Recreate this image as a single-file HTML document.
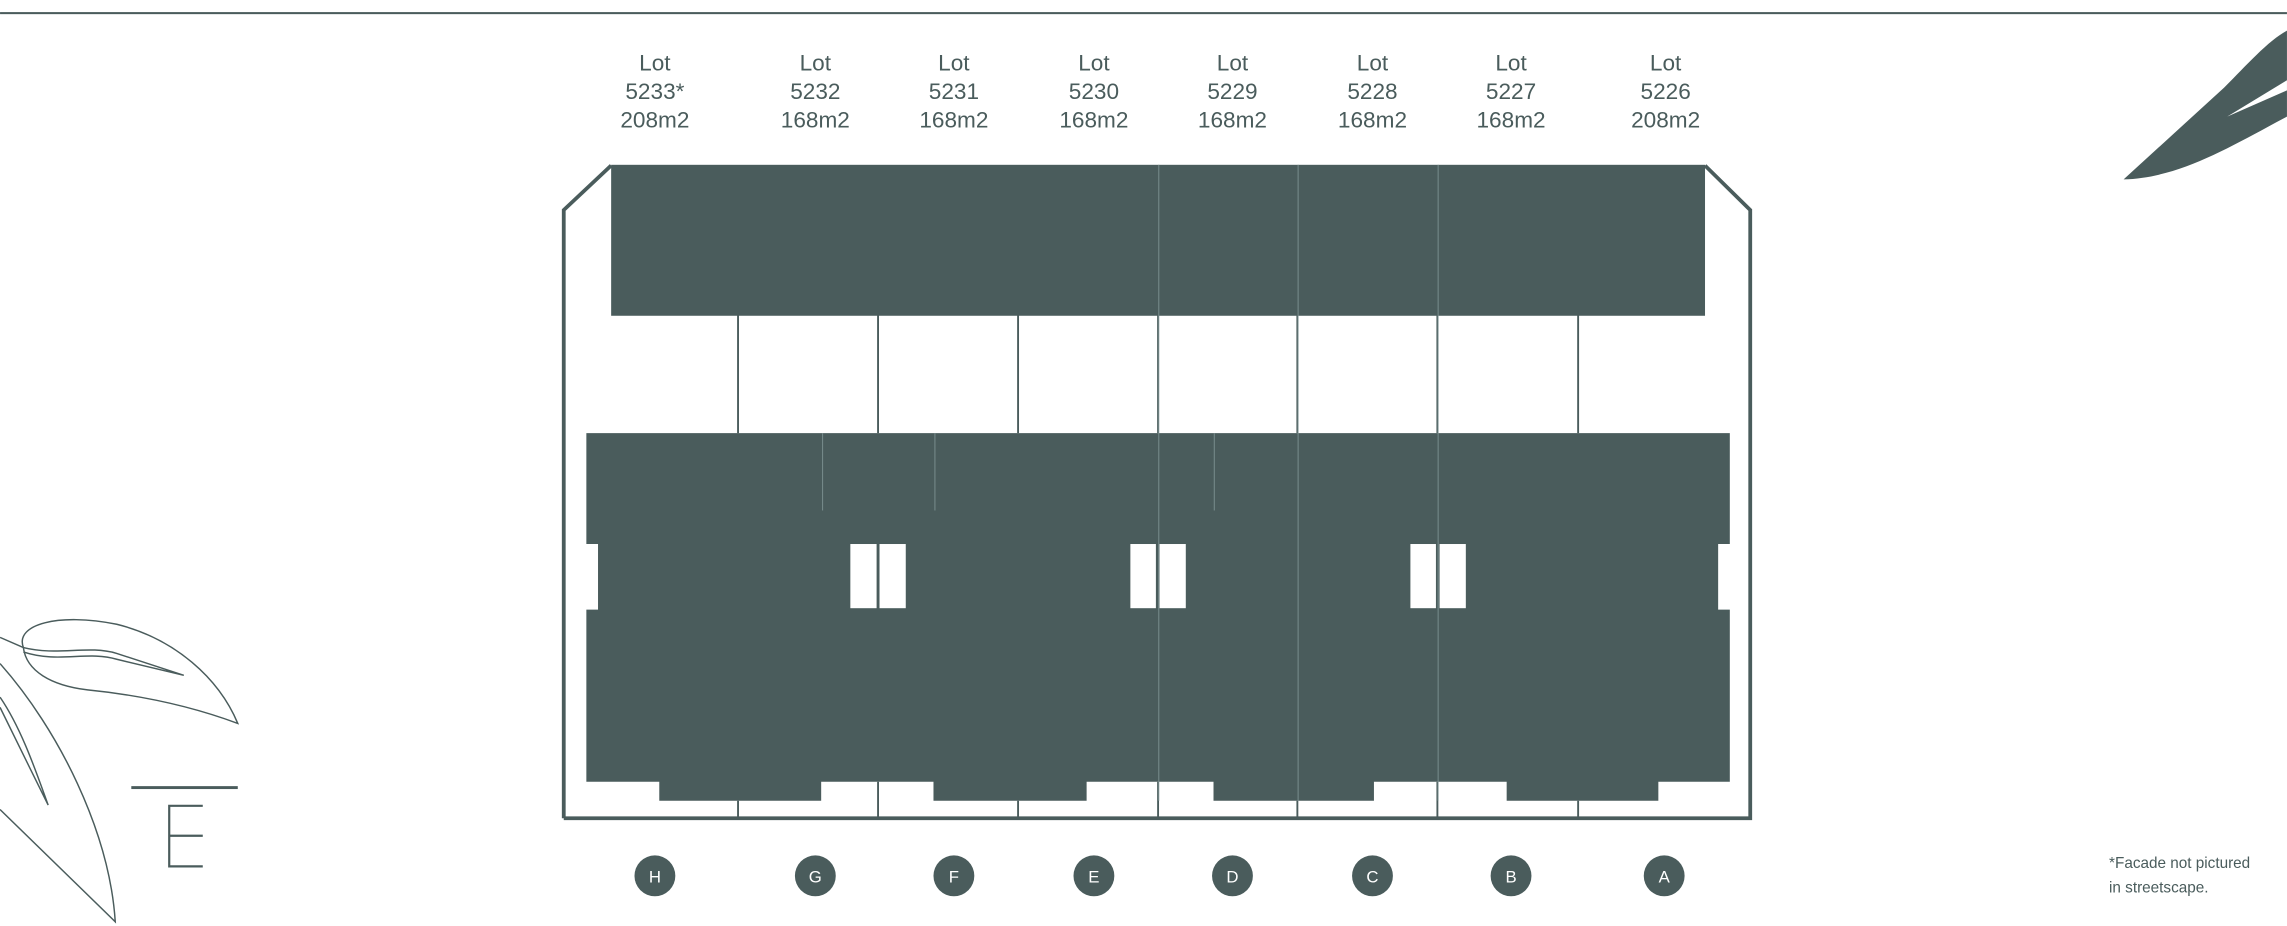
<!DOCTYPE html>
<html><head><meta charset="utf-8"><style>
html,body{margin:0;padding:0;background:#fff;}
svg{display:block;}
text{font-family:"Liberation Sans",sans-serif;fill:#4a5c5c;}
</style></head><body>
<svg width="2287" height="926" viewBox="0 0 1568 634.9" xmlns="http://www.w3.org/2000/svg">
<g fill="#4a5c5c" stroke="none">
<rect x="0" y="8.3" width="1568" height="1.4"/>
<rect x="419" y="113" width="750" height="103.5"/>
<path d="M402 297 H1186 V373 H1178 V418 H1186 V536 H1137 V549 H1033 V536 H942 V549 H832 V536 H745 V549 H640 V536 H563 V549 H452 V536 H402 V418 H410 V373 H402 Z"/>
</g>
<g fill="#fff">
<rect x="583" y="373" width="18" height="44"/><rect x="603" y="373" width="18" height="44"/>
<rect x="775" y="373" width="17.5" height="44"/><rect x="795" y="373" width="18" height="44"/>
<rect x="967" y="373" width="17.5" height="44"/><rect x="987" y="373" width="18" height="44"/>
</g>
<path d="M386.5 561 V144 L419 113.5 M1169 113.5 L1200 144 V561 H386.5" fill="none" stroke="#4a5c5c" stroke-width="2.6"/>
<g stroke="#4a5c5c" stroke-width="1.3">
<line x1="506" y1="216" x2="506" y2="297"/><line x1="602" y1="216" x2="602" y2="297"/>
<line x1="698" y1="216" x2="698" y2="297"/><line x1="794" y1="216" x2="794" y2="297"/>
<line x1="889.5" y1="216" x2="889.5" y2="297"/><line x1="985.5" y1="216" x2="985.5" y2="297"/>
<line x1="1082" y1="216" x2="1082" y2="297"/>
<line x1="506" y1="549" x2="506" y2="561"/><line x1="602" y1="536" x2="602" y2="561"/>
<line x1="698" y1="549" x2="698" y2="561"/><line x1="794" y1="536" x2="794" y2="561"/>
<line x1="889.5" y1="549" x2="889.5" y2="561"/><line x1="985.5" y1="536" x2="985.5" y2="561"/>
<line x1="1082" y1="549" x2="1082" y2="561"/>
</g>
<g stroke="#7f9494" stroke-width="0.6">
<line x1="794.5" y1="113" x2="794.5" y2="549"/><line x1="890" y1="113" x2="890" y2="549"/>
<line x1="986" y1="113" x2="986" y2="549"/>
<line x1="564" y1="297" x2="564" y2="350"/><line x1="641" y1="297" x2="641" y2="350"/>
<line x1="832.5" y1="297" x2="832.5" y2="350"/>
</g>
<g font-size="15.5" text-anchor="middle">
<text x="449" y="48.5">Lot</text><text x="449" y="68">5233*</text><text x="449" y="87.5">208m2</text>
<text x="559" y="48.5">Lot</text><text x="559" y="68">5232</text><text x="559" y="87.5">168m2</text>
<text x="654" y="48.5">Lot</text><text x="654" y="68">5231</text><text x="654" y="87.5">168m2</text>
<text x="750" y="48.5">Lot</text><text x="750" y="68">5230</text><text x="750" y="87.5">168m2</text>
<text x="845" y="48.5">Lot</text><text x="845" y="68">5229</text><text x="845" y="87.5">168m2</text>
<text x="941" y="48.5">Lot</text><text x="941" y="68">5228</text><text x="941" y="87.5">168m2</text>
<text x="1036" y="48.5">Lot</text><text x="1036" y="68">5227</text><text x="1036" y="87.5">168m2</text>
<text x="1142" y="48.5">Lot</text><text x="1142" y="68">5226</text><text x="1142" y="87.5">208m2</text>
</g>
<g fill="#4a5c5c">
<circle cx="449" cy="600.5" r="14"/><circle cx="559" cy="600.5" r="14"/><circle cx="654" cy="600.5" r="14"/>
<circle cx="750" cy="600.5" r="14"/><circle cx="845" cy="600.5" r="14"/><circle cx="941" cy="600.5" r="14"/>
<circle cx="1036" cy="600.5" r="14"/><circle cx="1141" cy="600.5" r="14"/>
</g>
<g font-size="11.5" text-anchor="middle">
<text x="449" y="605" style="fill:#fff">H</text><text x="559" y="605" style="fill:#fff">G</text>
<text x="654" y="605" style="fill:#fff">F</text><text x="750" y="605" style="fill:#fff">E</text>
<text x="845" y="605" style="fill:#fff">D</text><text x="941" y="605" style="fill:#fff">C</text>
<text x="1036" y="605" style="fill:#fff">B</text><text x="1141" y="605" style="fill:#fff">A</text>
</g>
<text x="1446" y="595" font-size="10.5">*Facade not pictured</text>
<text x="1446" y="612" font-size="10.5">in streetscape.</text>
<path d="M1456 123 L1525 60 C1540 45 1555 28 1568 21 V80 C1530 100 1495 122 1456 123 Z" fill="#4a5c5c"/>
<path d="M1527 80 L1568 55 V62 Z" fill="#fff"/>
<g fill="none" stroke="#4a5c5c" stroke-width="1">
<path d="M16 444 C10 428 40 420 80 428 C120 438 150 465 163 496 C120 480 80 475 60 473 C35 470 18 460 16 444 Z"/>
<path d="M0 437 L16 444 C40 450 60 442 80 448 L126 463 L80 452 C60 446 40 455 16 447"/>
<path d="M0 455 C40 500 75 570 79 632 L0 555"/>
<path d="M0 478 C15 500 25 530 33 552 C22 530 10 505 0 485"/>
</g>
<rect x="90" y="539" width="73" height="2" fill="#4a5c5c"/>
<g stroke="#4a5c5c" stroke-width="1.5" fill="none">
<path d="M139 552.5 H116 V594 H139 M116 573 H139"/>
</g>
</svg>
</body></html>
